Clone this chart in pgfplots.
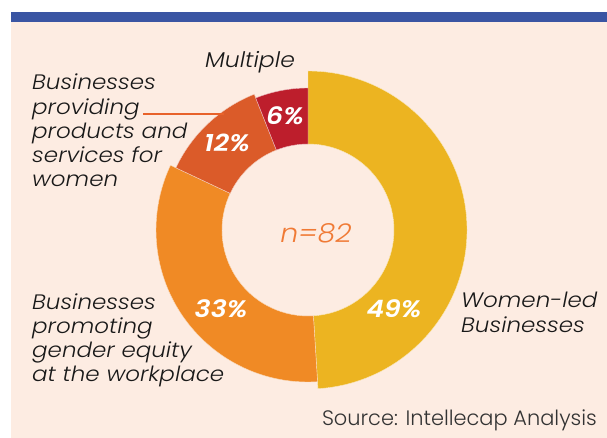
\documentclass[border=0pt]{standalone}
\usepackage{pgfplots}
\pgfplotsset{compat=1.18}
\usepackage{pgfplotstable}
\usepackage{fontspec}
\setmainfont{Poppins}
\newfontfamily\lblfont{Poppins Light Italic}[FakeStretch=1.1]
\newfontfamily\pctfont{Poppins SemiBold Italic}[FakeStretch=1.12]
\newfontfamily\srcfont{Poppins Light}

\definecolor{bgpeach}{HTML}{FDECE2}
\definecolor{topblue}{HTML}{3A55A3}
\definecolor{cyellow}{HTML}{ECB421}
\definecolor{corange}{HTML}{F08A25}
\definecolor{credor}{HTML}{DB5B29}
\definecolor{cred}{HTML}{BD1E2C}
\definecolor{ncol}{HTML}{F07A35}
\definecolor{leader}{HTML}{E8622A}

% share (%), outer radius (px), colour -- clockwise from 12 o'clock
\pgfplotstableread{
share radius color
49 159 cyellow
33 152 corange
12 146 credor
6 142 cred
}\donutdata

\newcommand{\lbl}[3]{\node[anchor=base west, inner sep=0pt, font=\lblfont\fontsize{21}{24}\selectfont, text=black!90] at (axis cs:#1,#2) {#3};}
\newcommand{\pct}[3]{\node[anchor=base, inner sep=0pt, font=\pctfont\fontsize{24}{28}\selectfont, text=white] at (axis cs:#1,#2) {#3};}

\begin{document}
\begin{tikzpicture}
\begin{axis}[
  width=607bp, height=438bp, scale only axis,
  xmin=0, xmax=607, ymin=0, ymax=438,
  hide axis, clip=false,
]
  \fill[white] (axis cs:0,0) rectangle (axis cs:607,438);
  \fill[bgpeach] (axis cs:10.5,0) rectangle (axis cs:607,415.5);
  \fill[topblue] (axis cs:10.5,415.5) rectangle (axis cs:607,426);

  \xdef\cum{0}
  \pgfplotsinvokeforeach{0,...,3}{
    \pgfplotstablegetelem{#1}{share}\of\donutdata \let\sh\pgfplotsretval
    \pgfplotstablegetelem{#1}{radius}\of\donutdata \let\R\pgfplotsretval
    \pgfplotstablegetelem{#1}{color}\of\donutdata \let\col\pgfplotsretval
    \pgfmathsetmacro\aone{90-3.6*\cum}
    \pgfmathsetmacro\atwo{90-3.6*(\cum+\sh)}
    \pgfmathsetmacro\dr{86-\R}
    \edef\temp{\noexpand\fill[\col, draw=white!70!\col, line width=0.4pt]
      (axis cs:308,208) ++(\aone:\R bp)
      arc[start angle=\aone, end angle=\atwo, radius=\R bp]
      -- ++(\atwo:\dr bp)
      arc[start angle=\atwo, end angle=\aone, radius=86bp] -- cycle;}
    \temp
    \pgfmathsetmacro\newcum{\cum+\sh}
    \xdef\cum{\newcum}
  }

  \draw[leader, line width=1.8pt] (axis cs:143,324) -- (axis cs:224,324);

  \pct{394}{120}{49\%}
  \pct{221}{120}{33\%}
  \pct{227}{286}{12\%}
  \pct{285}{313}{6\%}

  \node[anchor=base, inner sep=0pt, font=\lblfont\fontsize{26}{30}\selectfont, text=ncol] at (axis cs:316,195) {n=82};

  \node[anchor=base, inner sep=0pt, font=\lblfont\fontsize{21.5}{24}\selectfont, text=black!90] at (axis cs:250,370) {Multiple};

  \lbl{32}{348}{Businesses}
  \lbl{32}{323.8}{providing}
  \lbl{32}{299.6}{products and}
  \lbl{32}{275.4}{services for}
  \lbl{32}{251.2}{women}

  \lbl{32}{128.7}{Businesses}
  \lbl{32}{104.5}{promoting}
  \lbl{32}{80.3}{gender equity}
  \lbl{32}{56.1}{at the workplace}

  \lbl{461}{130}{Women-led}
  \lbl{461}{105}{Businesses}

  \node[anchor=base east, inner sep=0pt, font=\srcfont\fontsize{21}{24}\selectfont, text=black!80] at (axis cs:597,12.3) {Source: Intellecap Analysis};
\end{axis}
\end{tikzpicture}
\end{document}
